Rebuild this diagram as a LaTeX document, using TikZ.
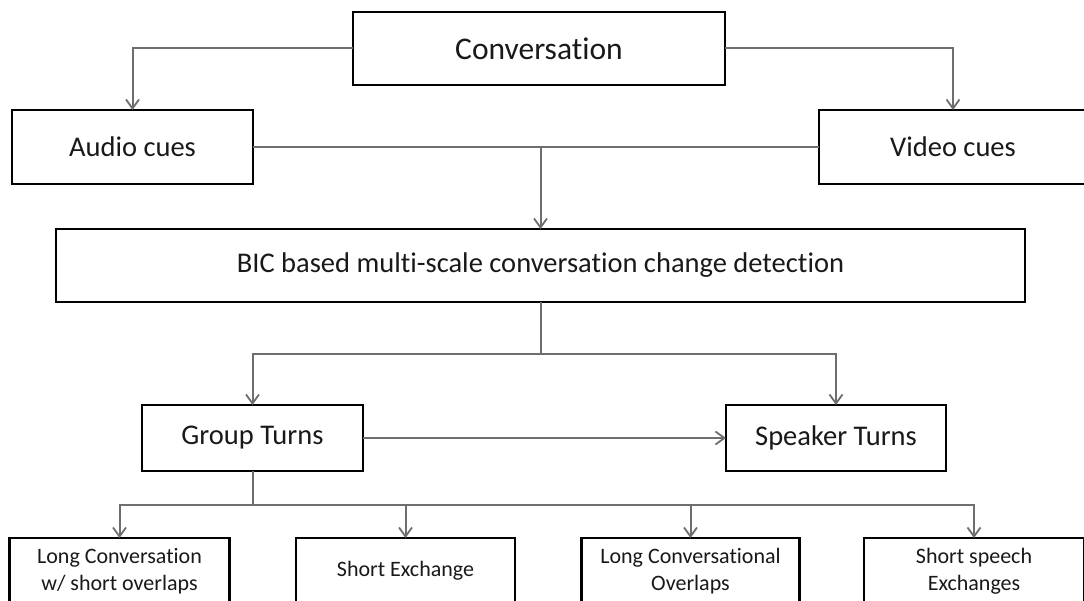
\documentclass[tikz,border=0pt]{standalone}
\usepackage{fontspec}
\setmainfont{Carlito}[Ligatures=NoCommon]
\usetikzlibrary{arrows.meta}
\definecolor{linegray}{RGB}{110,110,110}
\definecolor{txt}{RGB}{25,25,25}
\begin{document}
\begin{tikzpicture}[x=1pt,y=-1pt,
  box/.style={draw=black, line width=2.5pt, rectangle, inner sep=0pt, outer sep=0pt, align=center, text=txt},
  midfont/.style={font=\fontsize{28.5}{34}\selectfont},
  smallfont/.style={font=\fontsize{22}{27}\selectfont},
  conn/.style={draw=linegray, line width=2pt},
  arr/.style={conn, -{Straight Barb[length=9pt,width=13pt,line width=1.8pt]}},
]
\useasboundingbox (0,0) rectangle (1084,601);
\fill[white] (0,0) rectangle (1084,601);
\clip (0,0) rectangle (1084,601);

% top row
\node[box, minimum width=372pt, minimum height=73pt, font=\fontsize{31.5}{36}\selectfont] (conv) at (539,48.5) {Conversation};
\node[box, midfont, minimum width=241pt, minimum height=74pt] (audio) at (132.5,147) {Audio cues};
\node[box, midfont, minimum width=268pt, minimum height=74pt] (video) at (953,147) {Video cues};

% BIC
\node[box, midfont, minimum width=969pt, minimum height=73pt] (bic) at (540.5,265.5) {BIC based multi-scale conversation change detection};

% turns
\node[box, midfont, minimum width=221pt, minimum height=66pt] (group) at (252.5,438) {Group Turns};
\node[box, midfont, minimum width=220pt, minimum height=66pt] (speaker) at (836,438) {Speaker Turns};

% bottom row
\node[box, smallfont, minimum width=220pt, minimum height=66pt] (b1) at (119.5,571) {Long Conversation\\w/ short overlaps};
\node[box, smallfont, minimum width=219pt, minimum height=66pt] (b2) at (405.5,571) {Short Exchange};
\node[box, smallfont, minimum width=218pt, minimum height=66pt] (b3) at (690.5,571) {Long Conversational\\Overlaps};
\node[box, smallfont, minimum width=220pt, minimum height=66pt] (b4) at (974,571) {Short speech\\Exchanges};

% connectors
\draw[arr] (conv.west) -| (audio.north);
\draw[arr] (conv.east) -| (video.north);
\draw[conn] (audio.east) -- (video.west);
\draw[arr] (audio.east -| bic.north) -- (bic.north);

\coordinate (split) at (540.5,354);
\draw[conn] (bic.south) -- (split);
\draw[arr] (split) -| (group.north);
\draw[arr] (split) -| (speaker.north);

\draw[arr] (group.east) -- (speaker.west);

\coordinate (split2) at (252.5,505);
\draw[conn] (group.south) -- (split2);
\draw[arr] (split2) -| (b1.north);
\draw[arr] (split2) -| (b2.north);
\draw[arr] (split2) -| (b3.north);
\draw[arr] (split2) -| (b4.north);
\end{tikzpicture}
\end{document}
